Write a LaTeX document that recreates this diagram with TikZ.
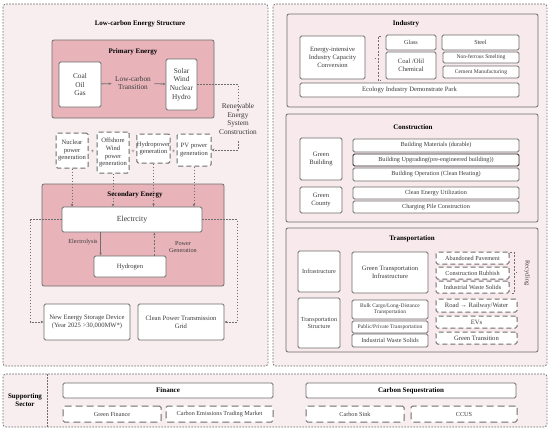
\documentclass[tikz,border=0pt]{standalone}
\usepackage{fontspec}
\setmainfont{Liberation Serif}
\usepackage{tikz}
\usetikzlibrary{arrows.meta}
\definecolor{rosebg}{HTML}{F8EDEF}
\definecolor{rosedeep}{HTML}{E8B4BA}
\definecolor{rosepanel}{HTML}{F7E9EC}
\definecolor{edgegray}{HTML}{6E6E6E}
\definecolor{inkgray}{HTML}{3A3A3A}
\tikzset{
  box/.style={draw=edgegray,fill=white,line width=0.8pt,rounded corners=1.5pt,align=center,inner sep=1pt,text=inkgray},
  dbox/.style={box,dash pattern=on 5pt off 3pt,line width=1pt},
  panel/.style={draw=edgegray,line width=0.8pt,rounded corners=2pt},
  frame/.style={draw=edgegray,dash pattern=on 1.6pt off 1.4pt,line width=0.8pt,rounded corners=3pt,fill=rosebg},
  link/.style={draw=edgegray,dash pattern=on 1.5pt off 1.5pt,line width=0.8pt,-{Stealth[length=3pt,width=2.5pt]}},
  head/.style={font=\fontsize{7}{8}\selectfont\bfseries,text=black},
  tiny/.style={font=\fontsize{6.2}{7.2}\selectfont},
  small/.style={font=\fontsize{6.6}{7.8}\selectfont}
}
\begin{document}
\begin{tikzpicture}[x=1pt,y=-1pt,font=\fontsize{7.3}{8.8}\selectfont,text=inkgray]
  \useasboundingbox (0,0) rectangle (550,429);
  % frames
  \draw[frame] (3,4) rectangle (268,366);
  \draw[frame] (273,4) rectangle (547,366);
  \draw[frame] (3,374) rectangle (547,427);
  \draw[edgegray,dash pattern=on 1.6pt off 1.4pt,line width=0.8pt] (47,374) -- (47,427);

  % low-carbon energy structure
  \node[head] (lctitle) at (140,24) {Low-carbon Energy Structure};
  \draw[panel,fill=rosedeep] (52,40) rectangle (214,118);
  \node[head] (primtitle) at (133,52) {Primary Energy};
  \node[box,minimum width=42pt,minimum height=45pt] (fossil) at (80,84.5) {Coal\\Oil\\Gas};
  \node[box,minimum width=31pt,minimum height=51pt] (clean) at (181.5,84.5) {Solar\\Wind\\Nuclear\\Hydro};
  \node[align=center] (transit) at (133,83) {Low-carbon\\Transition};
  \draw[edgegray,line width=0.8pt,-{Stealth[length=3pt]}] (fossil) -- (transit);
  \draw[edgegray,line width=0.8pt,-{Stealth[length=3pt]}] (transit) -- (clean);
  \node[align=center] (renew) at (238,119) {Renewable\\Energy\\System\\Construction};

  \node[dbox,small,minimum width=32pt,minimum height=35pt] (nuclear) at (72,150.5) {Nuclear\\power\\generation};
  \node[dbox,small,minimum width=32pt,minimum height=41pt] (offshore) at (113,152.5) {Offshore\\Wind\\power\\generation};
  \node[dbox,small,minimum width=33pt,minimum height=29pt,inner sep=0pt] (hydro) at (153.5,148.5) {Hydropower\\generation};
  \node[dbox,small,minimum width=34pt,minimum height=32pt,inner sep=0pt] (pv) at (194,150) {PV power\\generation};
  \node[tiny] (plusa) at (92.5,152) {+};
  \node[tiny] (plusb) at (133,152) {+};
  \node[tiny] (plusc) at (173.5,152) {+};
  \draw[link] (clean.east) -| ([yshift=-12pt]renew.north);
  \draw[link] ([yshift=-3pt]renew.south) |- (pv.east);

  \draw[panel,fill=rosedeep] (42,184) rectangle (224,286);
  \node[head] (sectitle) at (135,195) {Secondary Energy};
  \node[box,minimum width=140pt,minimum height=25pt,font=\fontsize{7.8}{9}\selectfont] (elec) at (132,219.5) {Electrcity};
  \node[box,small,minimum width=72pt,minimum height=21pt] (hydrogen) at (130,266.5) {Hydrogen};
  \foreach \src in {nuclear,offshore,hydro,pv}
    \draw[link] (\src) -- (\src |- elec.north);
  \draw[edgegray,line width=0.7pt,-{Stealth[length=3pt]}] ([xshift=7pt]hydrogen.north west |- elec.south) -- ([xshift=7pt]hydrogen.north west);
  \draw[edgegray,line width=0.7pt,dash pattern=on 2pt off 1.5pt,-{Stealth[length=3pt]}] ([xshift=-12pt]hydrogen.north east) -- ([xshift=-12pt]hydrogen.north east |- elec.south);
  \node[tiny] (lysis) at (83,242) {Electrolysis};
  \node[tiny,align=center] (powgen) at (183,247) {Power\\Generation};

  \node[box,small,minimum width=86pt,minimum height=36pt] (storage) at (87,322) {New Energy Storage Device\\(Year 2025 >30,000MW*)};
  \node[box,small,minimum width=86pt,minimum height=36pt] (grid) at (181,322) {Clean Power Transmission\\Grid};
  \draw[link] (elec.west) -- ++(-31,0) |- (storage.west);
  \draw[link] (elec.east) -- ++(35,0) |- (grid.east);

  % industry
  \draw[panel,fill=rosepanel] (287,14) rectangle (538,107);
  \node[head] (indtitle) at (406,24) {Industry};
  \node[box,small,minimum width=65pt,minimum height=43pt] (eic) at (332.5,57.5) {Energy-intensive\\Industry Capacity\\Conversion};
  \draw[edgegray,dash pattern=on 2pt off 1.5pt,line width=0.8pt] (381,36) -- (378,36) -- (378,80) -- (381,80);
  \draw[edgegray,line width=0.8pt] (374.5,58) -- (375.5,58);
  \node[box,tiny,minimum width=50pt,minimum height=15pt] (glass) at (411,42.5) {Glass};
  \node[box,small,minimum width=50pt,minimum height=27pt] (chem) at (411,65.5) {Coal /Olil\\Chemical};
  \node[box,tiny,minimum width=77pt,minimum height=15pt] (steel) at (480.5,42.5) {Steel};
  \node[box,minimum width=76pt,minimum height=11pt,font=\fontsize{5.6}{6.5}\selectfont] (smelt) at (481,57.5) {Non-ferrous Smelting};
  \node[box,minimum width=76pt,minimum height=12pt,font=\fontsize{5.6}{6.5}\selectfont] (cement) at (481,72) {Cement Manufacturing};
  \node[box,small,minimum width=219pt,minimum height=14pt] (ecopark) at (409.5,90) {Ecology Industry Demonstrate Park};

  % construction
  \draw[panel,fill=rosepanel] (286,114) rectangle (538,222);
  \node[head] (contitle) at (413,127) {Construction};
  \node[box,small,minimum width=42pt,minimum height=42pt] (gbuild) at (321,159) {Green\\Building};
  \node[box,small,minimum width=42pt,minimum height=26pt] (gcounty) at (321,200) {Green\\County};
  \node[box,tiny,minimum width=166pt,minimum height=13pt] (materials) at (436,145.5) {Building Materials (durable)};
  \node[box,tiny,minimum width=166pt,minimum height=12pt,draw=black!85] (upgrade) at (436,160) {Building Upgrading(pre-engineered building))};
  \node[box,tiny,minimum width=166pt,minimum height=13pt] (operate) at (436,174.5) {Building Operation (Clean Heating)};
  \node[box,tiny,minimum width=166pt,minimum height=12pt] (cleanuse) at (436,193) {Clean Energy Utilization};
  \node[box,tiny,minimum width=166pt,minimum height=12pt] (charging) at (436,207) {Charging Pile Construction};

  % transportation
  \draw[panel,fill=rosepanel] (286,228) rectangle (538,352);
  \node[head] (tratitle) at (412,239) {Transportation};
  \node[box,tiny,minimum width=42pt,minimum height=41pt,inner sep=0pt] (infra) at (319,271.5) {Infrastructure};
  \node[box,tiny,minimum width=42pt,minimum height=50pt,inner sep=0pt] (tstruct) at (319,323) {Transportation\\Structure};
  \node[box,small,minimum width=76pt,minimum height=41pt] (gtinfra) at (390,272.5) {Green Transportation\\Infrastructure};
  \node[box,minimum width=76pt,minimum height=19pt,font=\fontsize{5.5}{6.3}\selectfont] (bulk) at (390,309.5) {Bulk Cargo/Long-Distance\\Transportation};
  \node[box,minimum width=76pt,minimum height=12pt,inner sep=0pt,font=\fontsize{5.5}{6.3}\selectfont] (pubpriv) at (390,327) {Public/Private Transportation};
  \node[box,tiny,minimum width=76pt,minimum height=13pt] (waste) at (390,340.5) {Industrial Waste Solids};
  \node[dbox,tiny,minimum width=73pt,minimum height=12pt] (pavement) at (472.5,258) {Abandoned Pavement};
  \node[dbox,tiny,minimum width=73pt,minimum height=12pt] (rubbish) at (472.5,273) {Construction Rubbish};
  \node[dbox,tiny,minimum width=73pt,minimum height=12pt] (wastedash) at (472.5,287) {Industrial Waste Solids};
  \draw[edgegray,dash pattern=on 2pt off 1.5pt,line width=0.8pt] (510,252) -- (514,252) -- (514,293) -- (510,293);
  \draw[edgegray,line width=0.8pt] (516,272.5) -- (517,272.5);
  \node[tiny,rotate=-90] (recycle) at (527,273) {Recycling};
  \node[dbox,small,minimum width=81pt,minimum height=13pt] (road) at (476.5,305.5) {Road → Railway/Water};
  \node[dbox,small,minimum width=81pt,minimum height=12pt] (evs) at (476.5,322) {EVs};
  \node[dbox,small,minimum width=81pt,minimum height=12pt] (greentr) at (476.5,338) {Green Transition};

  % supporting sector
  \node[head,align=center] (support) at (25,400) {Supporting\\Sector};
  \node[box,head,minimum width=210pt,minimum height=15pt] (finance) at (168,390.5) {Finance};
  \node[box,head,minimum width=210pt,minimum height=15pt] (carbonseq) at (411,390.5) {Carbon Sequestration};
  \node[dbox,tiny,minimum width=98pt,minimum height=16pt,dash pattern=on 7pt off 4pt] (gfinance) at (112,414) {Green Finance};
  \node[dbox,tiny,minimum width=107pt,minimum height=16pt,dash pattern=on 7pt off 4pt] (trading) at (219.5,414) {Carbon Emissions Trading Market};
  \node[dbox,tiny,minimum width=98pt,minimum height=16pt,dash pattern=on 7pt off 4pt] (sink) at (355,414) {Carbon Sink};
  \node[dbox,tiny,minimum width=106pt,minimum height=16pt,dash pattern=on 7pt off 4pt] (ccus) at (464,414) {CCUS};
\end{tikzpicture}
\end{document}
